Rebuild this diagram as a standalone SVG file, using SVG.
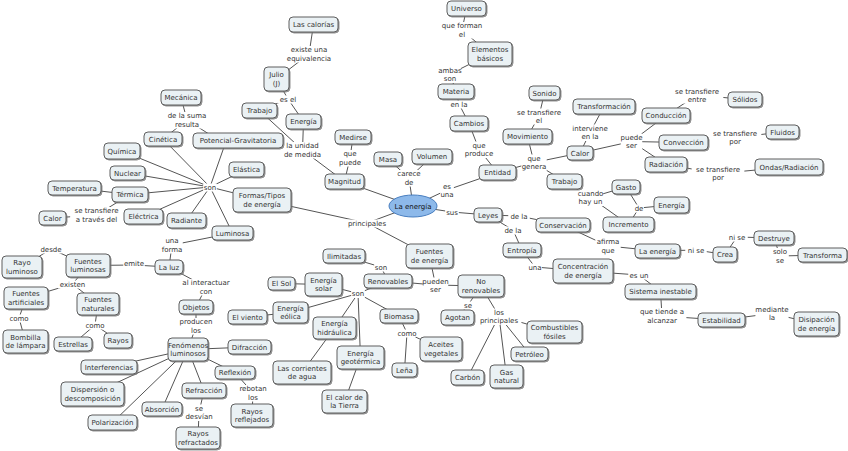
<svg xmlns="http://www.w3.org/2000/svg" width="848" height="451" viewBox="0 0 848 451">
<defs>
<filter id="sh" x="-10%" y="-10%" width="130%" height="140%"><feDropShadow dx="1" dy="1" stdDeviation="0.4" flood-color="#777" flood-opacity="0.8"/></filter>
</defs>
<style>
.node rect{fill:#eaf1f4;stroke:#5e5e5e;stroke-width:1;filter:url(#sh)}
text{font-family:"DejaVu Sans",Verdana,sans-serif;font-size:7px;fill:#333;text-anchor:middle}
.lbl rect{fill:#fff;stroke:none}
#conn line{stroke:#555;stroke-width:1}
</style>
<rect width="848" height="451" fill="#fff"/>
<g id="conn">
<line x1="313.5" y1="24.5" x2="309" y2="54"/>
<line x1="309" y1="54" x2="276.5" y2="79"/>
<line x1="276.5" y1="79" x2="288" y2="99"/>
<line x1="288" y1="99" x2="259.5" y2="110.5"/>
<line x1="288" y1="99" x2="303.5" y2="121.5"/>
<line x1="259.5" y1="110.5" x2="302.5" y2="150"/>
<line x1="303.5" y1="121.5" x2="302.5" y2="150"/>
<line x1="302.5" y1="150" x2="344.5" y2="181.5"/>
<line x1="353" y1="137" x2="350" y2="158"/>
<line x1="350" y1="158" x2="344.5" y2="181.5"/>
<line x1="344.5" y1="181.5" x2="413" y2="206"/>
<line x1="388" y1="159" x2="409" y2="178"/>
<line x1="432" y1="156.5" x2="409" y2="178"/>
<line x1="409" y1="178" x2="413" y2="206"/>
<line x1="413" y1="206" x2="447" y2="190"/>
<line x1="447" y1="190" x2="497.5" y2="172.5"/>
<line x1="469" y1="123.5" x2="479" y2="149.5"/>
<line x1="479" y1="149.5" x2="497.5" y2="172.5"/>
<line x1="456" y1="91.5" x2="459" y2="104"/>
<line x1="459" y1="104" x2="469" y2="123.5"/>
<line x1="490" y1="54" x2="450" y2="74"/>
<line x1="450" y1="74" x2="456" y2="91.5"/>
<line x1="466.5" y1="8.5" x2="462" y2="30"/>
<line x1="462" y1="30" x2="490" y2="54"/>
<line x1="497.5" y1="172.5" x2="534" y2="162.5"/>
<line x1="534" y1="162.5" x2="527.5" y2="136.5"/>
<line x1="534" y1="162.5" x2="580" y2="153"/>
<line x1="534" y1="162.5" x2="564.5" y2="181.5"/>
<line x1="527.5" y1="136.5" x2="539" y2="116"/>
<line x1="539" y1="116" x2="544.5" y2="93"/>
<line x1="580" y1="153" x2="590" y2="132.5"/>
<line x1="590" y1="132.5" x2="604" y2="106.5"/>
<line x1="580" y1="153" x2="631.5" y2="141.5"/>
<line x1="631.5" y1="141.5" x2="666" y2="115.5"/>
<line x1="631.5" y1="141.5" x2="683.5" y2="142.5"/>
<line x1="631.5" y1="141.5" x2="666" y2="164.5"/>
<line x1="666" y1="115.5" x2="697" y2="95"/>
<line x1="697" y1="95" x2="745" y2="99.5"/>
<line x1="683.5" y1="142.5" x2="735" y2="137.5"/>
<line x1="735" y1="137.5" x2="782.5" y2="132"/>
<line x1="666" y1="164.5" x2="718" y2="173.5"/>
<line x1="718" y1="173.5" x2="789" y2="167"/>
<line x1="564.5" y1="181.5" x2="590.5" y2="197.5"/>
<line x1="590.5" y1="197.5" x2="626" y2="187"/>
<line x1="590.5" y1="197.5" x2="628.5" y2="224.5"/>
<line x1="626" y1="187" x2="639" y2="208"/>
<line x1="628.5" y1="224.5" x2="639" y2="208"/>
<line x1="639" y1="208" x2="671.5" y2="205"/>
<line x1="413" y1="206" x2="452" y2="212"/>
<line x1="452" y1="212" x2="488" y2="215"/>
<line x1="488" y1="215" x2="519" y2="216"/>
<line x1="519" y1="216" x2="563" y2="225"/>
<line x1="488" y1="215" x2="513" y2="230"/>
<line x1="513" y1="230" x2="522" y2="250"/>
<line x1="563" y1="225" x2="608" y2="246"/>
<line x1="608" y1="246" x2="657.5" y2="251"/>
<line x1="657.5" y1="251" x2="696" y2="250"/>
<line x1="696" y1="250" x2="725" y2="254.5"/>
<line x1="725" y1="254.5" x2="737" y2="237"/>
<line x1="737" y1="237" x2="774" y2="238"/>
<line x1="774" y1="238" x2="780" y2="256"/>
<line x1="780" y1="256" x2="822.5" y2="255"/>
<line x1="522" y1="250" x2="535" y2="267"/>
<line x1="535" y1="267" x2="583" y2="271"/>
<line x1="583" y1="271" x2="639" y2="275"/>
<line x1="639" y1="275" x2="660.5" y2="291.5"/>
<line x1="660.5" y1="291.5" x2="662" y2="316"/>
<line x1="662" y1="316" x2="721.5" y2="320"/>
<line x1="721.5" y1="320" x2="772" y2="313.5"/>
<line x1="772" y1="313.5" x2="816.5" y2="324"/>
<line x1="413" y1="206" x2="367" y2="223"/>
<line x1="367" y1="223" x2="262" y2="200"/>
<line x1="367" y1="223" x2="429.5" y2="256"/>
<line x1="262" y1="200" x2="210" y2="187"/>
<line x1="210" y1="187" x2="163" y2="139"/>
<line x1="210" y1="187" x2="224" y2="147"/>
<line x1="210" y1="187" x2="122" y2="151"/>
<line x1="210" y1="187" x2="127.5" y2="173"/>
<line x1="210" y1="187" x2="130" y2="194.5"/>
<line x1="210" y1="187" x2="143.5" y2="216.5"/>
<line x1="210" y1="187" x2="186.5" y2="220.5"/>
<line x1="210" y1="187" x2="232.5" y2="233"/>
<line x1="210" y1="187" x2="246.5" y2="169.5"/>
<line x1="181" y1="97.5" x2="187" y2="120"/>
<line x1="187" y1="120" x2="163" y2="139"/>
<line x1="187" y1="120" x2="212" y2="136"/>
<line x1="130" y1="194.5" x2="74.5" y2="188"/>
<line x1="130" y1="194.5" x2="96.5" y2="215"/>
<line x1="96.5" y1="215" x2="52.5" y2="218"/>
<line x1="232.5" y1="233" x2="172" y2="245"/>
<line x1="172" y1="245" x2="169" y2="267"/>
<line x1="169" y1="267" x2="134" y2="265"/>
<line x1="134" y1="265" x2="88" y2="265.5"/>
<line x1="88" y1="265.5" x2="51" y2="249"/>
<line x1="51" y1="249" x2="22" y2="267"/>
<line x1="88" y1="265.5" x2="72.5" y2="284"/>
<line x1="72.5" y1="284" x2="26" y2="298"/>
<line x1="72.5" y1="284" x2="98" y2="304"/>
<line x1="26" y1="298" x2="19" y2="318"/>
<line x1="19" y1="318" x2="25.5" y2="341.5"/>
<line x1="98" y1="304" x2="95" y2="325"/>
<line x1="95" y1="325" x2="73" y2="344"/>
<line x1="95" y1="325" x2="118" y2="340.5"/>
<line x1="169" y1="267" x2="206" y2="287"/>
<line x1="206" y1="287" x2="196" y2="307"/>
<line x1="196" y1="307" x2="196" y2="326"/>
<line x1="196" y1="326" x2="188" y2="349.5"/>
<line x1="188" y1="349.5" x2="249.5" y2="347"/>
<line x1="188" y1="349.5" x2="235" y2="372.5"/>
<line x1="188" y1="349.5" x2="109" y2="367"/>
<line x1="188" y1="349.5" x2="92.5" y2="394"/>
<line x1="188" y1="349.5" x2="162" y2="409"/>
<line x1="188" y1="349.5" x2="112.5" y2="422.5"/>
<line x1="188" y1="349.5" x2="204" y2="390.5"/>
<line x1="235" y1="372.5" x2="253" y2="393"/>
<line x1="253" y1="393" x2="252" y2="415.5"/>
<line x1="204" y1="390.5" x2="199" y2="412.5"/>
<line x1="199" y1="412.5" x2="198" y2="438"/>
<line x1="429.5" y1="256" x2="435.5" y2="285"/>
<line x1="435.5" y1="285" x2="388" y2="281"/>
<line x1="435.5" y1="285" x2="481" y2="286"/>
<line x1="388" y1="281" x2="381" y2="267"/>
<line x1="381" y1="267" x2="344" y2="256"/>
<line x1="388" y1="281" x2="358" y2="293.5"/>
<line x1="358" y1="293.5" x2="323.5" y2="284.5"/>
<line x1="358" y1="293.5" x2="290.5" y2="312.5"/>
<line x1="358" y1="293.5" x2="334.5" y2="328"/>
<line x1="358" y1="293.5" x2="360.5" y2="357.5"/>
<line x1="358" y1="293.5" x2="399" y2="316"/>
<line x1="323.5" y1="284.5" x2="281.5" y2="283.5"/>
<line x1="290.5" y1="312.5" x2="247.5" y2="317"/>
<line x1="334.5" y1="328" x2="302" y2="372.5"/>
<line x1="360.5" y1="357.5" x2="344.5" y2="401.5"/>
<line x1="399" y1="316" x2="407" y2="333"/>
<line x1="407" y1="333" x2="404.5" y2="370"/>
<line x1="407" y1="333" x2="441" y2="349"/>
<line x1="481" y1="286" x2="468" y2="305"/>
<line x1="468" y1="305" x2="457.5" y2="317.5"/>
<line x1="481" y1="286" x2="499" y2="316"/>
<line x1="499" y1="316" x2="554.5" y2="332"/>
<line x1="499" y1="316" x2="529.5" y2="354"/>
<line x1="499" y1="316" x2="506.5" y2="376.5"/>
<line x1="499" y1="316" x2="467.5" y2="377.5"/>
</g>
<g class="lbl" id="labels">
<rect x="441.5" y="22" width="41" height="16.5"/><text><tspan x="462" y="28">que forman</tspan><tspan x="462" y="36.5">el</tspan></text>
<rect x="439.25" y="66.5" width="21.5" height="16.5"/><text><tspan x="450" y="72.5">ambas</tspan><tspan x="450" y="81">son</tspan></text>
<rect x="448.25" y="100.5" width="21.5" height="8"/><text x="459" y="106.5">en la</text>
<rect x="464.35" y="141.5" width="29.3" height="16.5"/><text><tspan x="479" y="147.5">que</tspan><tspan x="479" y="156">produce</tspan></text>
<rect x="521.3" y="154.5" width="25.4" height="16.5"/><text><tspan x="534" y="160.5">que</tspan><tspan x="534" y="169">genera</tspan></text>
<rect x="512.65" y="108.5" width="52.7" height="16"/><text><tspan x="539" y="114.5">se transfiere</tspan><tspan x="539" y="122.5">el</tspan></text>
<rect x="569.5" y="124.5" width="41" height="16.5"/><text><tspan x="590" y="130.5">interviene</tspan><tspan x="590" y="139">en la</tspan></text>
<rect x="620.75" y="133.5" width="21.5" height="16.5"/><text><tspan x="631.5" y="139.5">puede</tspan><tspan x="631.5" y="148">ser</tspan></text>
<rect x="670.65" y="87.5" width="52.7" height="16"/><text><tspan x="697" y="93.5">se transfiere</tspan><tspan x="697" y="101.5">entre</tspan></text>
<rect x="708.65" y="129.5" width="52.7" height="16.5"/><text><tspan x="735" y="135.5">se transfiere</tspan><tspan x="735" y="144">por</tspan></text>
<rect x="691.65" y="165.5" width="52.7" height="16.5"/><text><tspan x="718" y="171.5">se transfiere</tspan><tspan x="718" y="180">por</tspan></text>
<rect x="577.8" y="189.5" width="25.4" height="16.5"/><text><tspan x="590.5" y="195.5">cuando</tspan><tspan x="590.5" y="204">hay un</tspan></text>
<rect x="634.1" y="204.5" width="9.8" height="8"/><text x="639" y="210.5">de</text>
<rect x="440.15" y="182.5" width="13.7" height="16"/><text><tspan x="447" y="188.5">es</tspan><tspan x="447" y="196.5">una</tspan></text>
<rect x="445.15" y="208.5" width="13.7" height="8"/><text x="452" y="214.5">sus</text>
<rect x="508.25" y="212.5" width="21.5" height="8"/><text x="519" y="218.5">de la</text>
<rect x="502.25" y="226.5" width="21.5" height="8"/><text x="513" y="232.5">de la</text>
<rect x="595.3" y="238" width="25.4" height="16.5"/><text><tspan x="608" y="244">afirma</tspan><tspan x="608" y="252.5">que</tspan></text>
<rect x="685.25" y="246.5" width="21.5" height="8"/><text x="696" y="252.5">ni se</text>
<rect x="726.25" y="233.5" width="21.5" height="8"/><text x="737" y="239.5">ni se</text>
<rect x="771.2" y="248" width="17.6" height="16.5"/><text><tspan x="780" y="254">solo</tspan><tspan x="780" y="262.5">se</tspan></text>
<rect x="528.15" y="263.5" width="13.7" height="8"/><text x="535" y="269.5">una</text>
<rect x="628.25" y="271.5" width="21.5" height="8"/><text x="639" y="277.5">es un</text>
<rect x="637.6" y="308" width="48.8" height="16.5"/><text><tspan x="662" y="314">que tiende a</tspan><tspan x="662" y="322.5">alcanzar</tspan></text>
<rect x="755.4" y="305.5" width="33.2" height="16.5"/><text><tspan x="772" y="311.5">mediante</tspan><tspan x="772" y="320">la</tspan></text>
<rect x="396.3" y="170" width="25.4" height="16.5"/><text><tspan x="409" y="176">carece</tspan><tspan x="409" y="184.5">de</tspan></text>
<rect x="339.25" y="150" width="21.5" height="16.5"/><text><tspan x="350" y="156">que</tspan><tspan x="350" y="164.5">puede</tspan></text>
<rect x="283.95" y="142" width="37.1" height="16.5"/><text><tspan x="302.5" y="148">la unidad</tspan><tspan x="302.5" y="156.5">de medida</tspan></text>
<rect x="277.25" y="95.5" width="21.5" height="8"/><text x="288" y="101.5">es el</text>
<rect x="284.6" y="46" width="48.8" height="16.5"/><text><tspan x="309" y="52">existe una</tspan><tspan x="309" y="60.5">equivalencia</tspan></text>
<rect x="166.5" y="112" width="41" height="16.5"/><text><tspan x="187" y="118">de la suma</tspan><tspan x="187" y="126.5">resulta</tspan></text>
<rect x="203.15" y="183.5" width="13.7" height="8"/><text x="210" y="189.5">son</text>
<rect x="70.15" y="207" width="52.7" height="16.5"/><text><tspan x="96.5" y="213">se transfiere</tspan><tspan x="96.5" y="221.5">a través del</tspan></text>
<rect x="161.25" y="237" width="21.5" height="16.5"/><text><tspan x="172" y="243">una</tspan><tspan x="172" y="251.5">forma</tspan></text>
<rect x="123.25" y="259.5" width="21.5" height="8"/><text x="134" y="265.5">emite</text>
<rect x="40.25" y="245.5" width="21.5" height="8"/><text x="51" y="251.5">desde</text>
<rect x="57.85" y="280.5" width="29.3" height="8"/><text x="72.5" y="286.5">existen</text>
<rect x="10.2" y="314.5" width="17.6" height="8"/><text x="19" y="320.5">como</text>
<rect x="86.2" y="321.5" width="17.6" height="8"/><text x="95" y="327.5">como</text>
<rect x="177.7" y="279" width="56.6" height="16.5"/><text><tspan x="206" y="285">al interactuar</tspan><tspan x="206" y="293.5">con</tspan></text>
<rect x="179.4" y="318" width="33.2" height="16.5"/><text><tspan x="196" y="324">producen</tspan><tspan x="196" y="332.5">los</tspan></text>
<rect x="238.35" y="385" width="29.3" height="16.5"/><text><tspan x="253" y="391">rebotan</tspan><tspan x="253" y="399.5">los</tspan></text>
<rect x="184.35" y="404.5" width="29.3" height="16.5"/><text><tspan x="199" y="410.5">se</tspan><tspan x="199" y="419">desvían</tspan></text>
<rect x="374.15" y="263.5" width="13.7" height="8"/><text x="381" y="269.5">son</text>
<rect x="351.15" y="290" width="13.7" height="8"/><text x="358" y="296">son</text>
<rect x="422.8" y="277.5" width="25.4" height="16.5"/><text><tspan x="435.5" y="283.5">pueden</tspan><tspan x="435.5" y="292">ser</tspan></text>
<rect x="398.2" y="329.5" width="17.6" height="8"/><text x="407" y="335.5">como</text>
<rect x="463.1" y="301.5" width="9.8" height="8"/><text x="468" y="307.5">se</text>
<rect x="476.55" y="308.5" width="44.9" height="16.5"/><text><tspan x="499" y="314.5">los</tspan><tspan x="499" y="323">principales</tspan></text>
<rect x="344.55" y="219.5" width="44.9" height="8"/><text x="367" y="225.5">principales</text>
</g>
<g id="la-energia"><ellipse cx="413" cy="206" rx="24" ry="11" fill="#8db9ea" stroke="#4a7fc0" stroke-width="1"/><text x="413" y="208.5" style="fill:#111">La energía</text></g>
<g id="universo" class="node"><rect x="447" y="1" width="39" height="15" rx="4"/><text x="466.5" y="11">Universo</text></g>
<g id="elementos" class="node"><rect x="468" y="42" width="44" height="24" rx="4"/><text><tspan x="490" y="52">Elementos</tspan><tspan x="490" y="60.5">básicos</tspan></text></g>
<g id="materia" class="node"><rect x="438" y="84" width="36" height="15" rx="4"/><text x="456" y="94">Materia</text></g>
<g id="cambios" class="node"><rect x="450" y="116" width="38" height="15" rx="4"/><text x="469" y="126">Cambios</text></g>
<g id="entidad" class="node"><rect x="479" y="165" width="37" height="15" rx="4"/><text x="497.5" y="175">Entidad</text></g>
<g id="movimiento" class="node"><rect x="503" y="129" width="49" height="15" rx="4"/><text x="527.5" y="139">Movimiento</text></g>
<g id="sonido" class="node"><rect x="529" y="86" width="31" height="14" rx="4"/><text x="544.5" y="95.5">Sonido</text></g>
<g id="transformacion" class="node"><rect x="573" y="99" width="62" height="15" rx="4"/><text x="604" y="109">Transformación</text></g>
<g id="calor-r" class="node"><rect x="567" y="146" width="26" height="14" rx="4"/><text x="580" y="155.5">Calor</text></g>
<g id="conduccion" class="node"><rect x="642" y="108" width="48" height="15" rx="4"/><text x="666" y="118">Conducción</text></g>
<g id="solidos" class="node"><rect x="728" y="92" width="34" height="15" rx="4"/><text x="745" y="102">Sólidos</text></g>
<g id="conveccion" class="node"><rect x="659" y="135" width="49" height="15" rx="4"/><text x="683.5" y="145">Convección</text></g>
<g id="fluidos" class="node"><rect x="766" y="125" width="33" height="14" rx="4"/><text x="782.5" y="134.5">Fluidos</text></g>
<g id="radiacion" class="node"><rect x="645" y="157" width="42" height="15" rx="4"/><text x="666" y="167">Radiación</text></g>
<g id="ondas" class="node"><rect x="755" y="159" width="68" height="16" rx="4"/><text x="789" y="169.5">Ondas/Radiación</text></g>
<g id="trabajo-r" class="node"><rect x="547" y="174" width="35" height="15" rx="4"/><text x="564.5" y="184">Trabajo</text></g>
<g id="gasto" class="node"><rect x="612" y="180" width="28" height="14" rx="4"/><text x="626" y="189.5">Gasto</text></g>
<g id="incremento" class="node"><rect x="603" y="217" width="51" height="15" rx="4"/><text x="628.5" y="227">Incremento</text></g>
<g id="energia-r" class="node"><rect x="654" y="197" width="35" height="16" rx="4"/><text x="671.5" y="207.5">Energía</text></g>
<g id="leyes" class="node"><rect x="474" y="208" width="28" height="14" rx="4"/><text x="488" y="217.5">Leyes</text></g>
<g id="conservacion" class="node"><rect x="536" y="218" width="54" height="14" rx="4"/><text x="563" y="227.5">Conservación</text></g>
<g id="entropia" class="node"><rect x="503" y="243" width="38" height="14" rx="4"/><text x="522" y="252.5">Entropía</text></g>
<g id="la-energia-box" class="node"><rect x="635" y="244" width="45" height="14" rx="4"/><text x="657.5" y="253.5">La energía</text></g>
<g id="crea" class="node"><rect x="713" y="247" width="24" height="15" rx="4"/><text x="725" y="257">Crea</text></g>
<g id="destruye" class="node"><rect x="754" y="231" width="40" height="14" rx="4"/><text x="774" y="240.5">Destruye</text></g>
<g id="transforma" class="node"><rect x="798" y="248" width="49" height="14" rx="4"/><text x="822.5" y="257.5">Transforma</text></g>
<g id="concentracion" class="node"><rect x="553" y="259" width="60" height="24" rx="4"/><text><tspan x="583" y="269">Concentración</tspan><tspan x="583" y="277.5">de energía</tspan></text></g>
<g id="sistema" class="node"><rect x="625" y="284" width="71" height="15" rx="4"/><text x="660.5" y="294">Sistema inestable</text></g>
<g id="estabilidad" class="node"><rect x="698" y="313" width="47" height="14" rx="4"/><text x="721.5" y="322.5">Estabilidad</text></g>
<g id="disipacion" class="node"><rect x="794" y="312" width="45" height="24" rx="4"/><text><tspan x="816.5" y="322">Disipación</tspan><tspan x="816.5" y="330.5">de energía</tspan></text></g>
<g id="volumen" class="node"><rect x="412" y="149" width="40" height="15" rx="4"/><text x="432" y="159">Volumen</text></g>
<g id="masa" class="node"><rect x="374" y="152" width="28" height="14" rx="4"/><text x="388" y="161.5">Masa</text></g>
<g id="medirse" class="node"><rect x="335" y="130" width="36" height="14" rx="4"/><text x="353" y="139.5">Medirse</text></g>
<g id="magnitud" class="node"><rect x="325" y="174" width="39" height="15" rx="4"/><text x="344.5" y="184">Magnitud</text></g>
<g id="energia-top" class="node"><rect x="286" y="114" width="35" height="15" rx="4"/><text x="303.5" y="124">Energía</text></g>
<g id="trabajo-top" class="node"><rect x="242" y="103" width="35" height="15" rx="4"/><text x="259.5" y="113">Trabajo</text></g>
<g id="julio" class="node"><rect x="264" y="67" width="25" height="24" rx="4"/><text><tspan x="276.5" y="77">Julio</tspan><tspan x="276.5" y="85.5">(J)</tspan></text></g>
<g id="calorias" class="node"><rect x="289" y="17" width="49" height="15" rx="4"/><text x="313.5" y="27">Las calorías</text></g>
<g id="potencial" class="node"><rect x="193" y="133" width="90" height="15" rx="4"/><text x="238" y="143">Potencial-Gravitatoria</text></g>
<g id="mecanica" class="node"><rect x="161" y="90" width="40" height="15" rx="4"/><text x="181" y="100">Mecánica</text></g>
<g id="cinetica" class="node"><rect x="144" y="132" width="38" height="14" rx="4"/><text x="163" y="141.5">Cinética</text></g>
<g id="quimica" class="node"><rect x="104" y="143" width="36" height="16" rx="4"/><text x="122" y="153.5">Química</text></g>
<g id="nuclear" class="node"><rect x="110" y="166" width="35" height="14" rx="4"/><text x="127.5" y="175.5">Nuclear</text></g>
<g id="temperatura" class="node"><rect x="48" y="181" width="53" height="14" rx="4"/><text x="74.5" y="190.5">Temperatura</text></g>
<g id="termica" class="node"><rect x="112" y="187" width="36" height="15" rx="4"/><text x="130" y="197">Térmica</text></g>
<g id="calor-l" class="node"><rect x="39" y="211" width="27" height="14" rx="4"/><text x="52.5" y="220.5">Calor</text></g>
<g id="electrica" class="node"><rect x="124" y="209" width="39" height="15" rx="4"/><text x="143.5" y="219">Eléctrica</text></g>
<g id="radiante" class="node"><rect x="167" y="213" width="39" height="15" rx="4"/><text x="186.5" y="223">Radiante</text></g>
<g id="elastica" class="node"><rect x="229" y="162" width="35" height="15" rx="4"/><text x="246.5" y="172">Elástica</text></g>
<g id="formas" class="node"><rect x="233" y="188" width="58" height="24" rx="4"/><text><tspan x="262" y="198">Formas/Tipos</tspan><tspan x="262" y="206.5">de energía</tspan></text></g>
<g id="luminosa" class="node"><rect x="212" y="226" width="41" height="14" rx="4"/><text x="232.5" y="235.5">Luminosa</text></g>
<g id="fuentes-energia" class="node"><rect x="406" y="244" width="47" height="24" rx="4"/><text><tspan x="429.5" y="254">Fuentes</tspan><tspan x="429.5" y="262.5">de energía</tspan></text></g>
<g id="la-luz" class="node"><rect x="155" y="260" width="28" height="14" rx="4"/><text x="169" y="269.5">La luz</text></g>
<g id="fuentes-luminosas" class="node"><rect x="66" y="254" width="44" height="23" rx="4"/><text><tspan x="88" y="263.5">Fuentes</tspan><tspan x="88" y="272">luminosas</tspan></text></g>
<g id="rayo-luminoso" class="node"><rect x="2" y="256" width="40" height="22" rx="4"/><text><tspan x="22" y="265">Rayo</tspan><tspan x="22" y="273.5">luminoso</tspan></text></g>
<g id="fuentes-artificiales" class="node"><rect x="4" y="287" width="44" height="22" rx="4"/><text><tspan x="26" y="296">Fuentes</tspan><tspan x="26" y="304.5">artificiales</tspan></text></g>
<g id="fuentes-naturales" class="node"><rect x="77" y="293" width="42" height="22" rx="4"/><text><tspan x="98" y="302">Fuentes</tspan><tspan x="98" y="310.5">naturales</tspan></text></g>
<g id="bombilla" class="node"><rect x="3" y="330" width="45" height="23" rx="4"/><text><tspan x="25.5" y="339.5">Bombilla</tspan><tspan x="25.5" y="348">de lámpara</tspan></text></g>
<g id="estrellas" class="node"><rect x="54" y="337" width="38" height="14" rx="4"/><text x="73" y="346.5">Estrellas</text></g>
<g id="rayos" class="node"><rect x="104" y="333" width="28" height="15" rx="4"/><text x="118" y="343">Rayos</text></g>
<g id="objetos" class="node"><rect x="179" y="300" width="34" height="14" rx="4"/><text x="196" y="309.5">Objetos</text></g>
<g id="fenomenos" class="node"><rect x="168" y="338" width="40" height="23" rx="4"/><text><tspan x="188" y="347.5">Fenómenos</tspan><tspan x="188" y="356">luminosos</tspan></text></g>
<g id="difraccion" class="node"><rect x="228" y="340" width="43" height="14" rx="4"/><text x="249.5" y="349.5">Difracción</text></g>
<g id="reflexion" class="node"><rect x="215" y="366" width="40" height="13" rx="4"/><text x="235" y="375">Reflexión</text></g>
<g id="rayos-reflejados" class="node"><rect x="231" y="404" width="42" height="23" rx="4"/><text><tspan x="252" y="413.5">Rayos</tspan><tspan x="252" y="422">reflejados</tspan></text></g>
<g id="interferencias" class="node"><rect x="81" y="360" width="56" height="14" rx="4"/><text x="109" y="369.5">Interferencias</text></g>
<g id="dispersion" class="node"><rect x="61" y="382" width="63" height="24" rx="4"/><text><tspan x="92.5" y="392">Dispersión o</tspan><tspan x="92.5" y="400.5">descomposición</tspan></text></g>
<g id="refraccion" class="node"><rect x="182" y="383" width="44" height="15" rx="4"/><text x="204" y="393">Refracción</text></g>
<g id="rayos-refractados" class="node"><rect x="176" y="427" width="44" height="22" rx="4"/><text><tspan x="198" y="436">Rayos</tspan><tspan x="198" y="444.5">refractados</tspan></text></g>
<g id="absorcion" class="node"><rect x="142" y="402" width="40" height="14" rx="4"/><text x="162" y="411.5">Absorción</text></g>
<g id="polarizacion" class="node"><rect x="88" y="415" width="49" height="15" rx="4"/><text x="112.5" y="425">Polarización</text></g>
<g id="ilimitadas" class="node"><rect x="323" y="249" width="42" height="14" rx="4"/><text x="344" y="258.5">Ilimitadas</text></g>
<g id="renovables" class="node"><rect x="364" y="274" width="48" height="14" rx="4"/><text x="388" y="283.5">Renovables</text></g>
<g id="no-renovables" class="node"><rect x="458" y="275" width="46" height="22" rx="4"/><text><tspan x="481" y="284">No</tspan><tspan x="481" y="292.5">renovables</tspan></text></g>
<g id="energia-solar" class="node"><rect x="305" y="273" width="37" height="23" rx="4"/><text><tspan x="323.5" y="282.5">Energía</tspan><tspan x="323.5" y="291">solar</tspan></text></g>
<g id="el-sol" class="node"><rect x="268" y="277" width="27" height="13" rx="4"/><text x="281.5" y="286">El Sol</text></g>
<g id="energia-eolica" class="node"><rect x="273" y="302" width="35" height="21" rx="4"/><text><tspan x="290.5" y="310.5">Energía</tspan><tspan x="290.5" y="319">eólica</tspan></text></g>
<g id="el-viento" class="node"><rect x="228" y="310" width="39" height="14" rx="4"/><text x="247.5" y="319.5">El viento</text></g>
<g id="energia-hidraulica" class="node"><rect x="313" y="317" width="43" height="22" rx="4"/><text><tspan x="334.5" y="326">Energía</tspan><tspan x="334.5" y="334.5">hidráulica</tspan></text></g>
<g id="corrientes" class="node"><rect x="273" y="361" width="58" height="23" rx="4"/><text><tspan x="302" y="370.5">Las corrientes</tspan><tspan x="302" y="379">de agua</tspan></text></g>
<g id="energia-geotermica" class="node"><rect x="337" y="346" width="47" height="23" rx="4"/><text><tspan x="360.5" y="355.5">Energía</tspan><tspan x="360.5" y="364">geotérmica</tspan></text></g>
<g id="calor-tierra" class="node"><rect x="322" y="390" width="45" height="23" rx="4"/><text><tspan x="344.5" y="399.5">El calor de</tspan><tspan x="344.5" y="408">la Tierra</tspan></text></g>
<g id="biomasa" class="node"><rect x="380" y="309" width="38" height="14" rx="4"/><text x="399" y="318.5">Biomasa</text></g>
<g id="lena" class="node"><rect x="392" y="363" width="25" height="14" rx="4"/><text x="404.5" y="372.5">Leña</text></g>
<g id="aceites" class="node"><rect x="420" y="337" width="42" height="24" rx="4"/><text><tspan x="441" y="347">Aceites</tspan><tspan x="441" y="355.5">vegetales</tspan></text></g>
<g id="agotan" class="node"><rect x="441" y="310" width="33" height="15" rx="4"/><text x="457.5" y="320">Agotan</text></g>
<g id="combustibles" class="node"><rect x="527" y="321" width="55" height="22" rx="4"/><text><tspan x="554.5" y="330">Combustibles</tspan><tspan x="554.5" y="338.5">fósiles</tspan></text></g>
<g id="petroleo" class="node"><rect x="511" y="347" width="37" height="14" rx="4"/><text x="529.5" y="356.5">Petróleo</text></g>
<g id="carbon" class="node"><rect x="451" y="370" width="33" height="15" rx="4"/><text x="467.5" y="380">Carbón</text></g>
<g id="gas-natural" class="node"><rect x="490" y="365" width="33" height="23" rx="4"/><text><tspan x="506.5" y="374.5">Gas</tspan><tspan x="506.5" y="383">natural</tspan></text></g>
</svg>
